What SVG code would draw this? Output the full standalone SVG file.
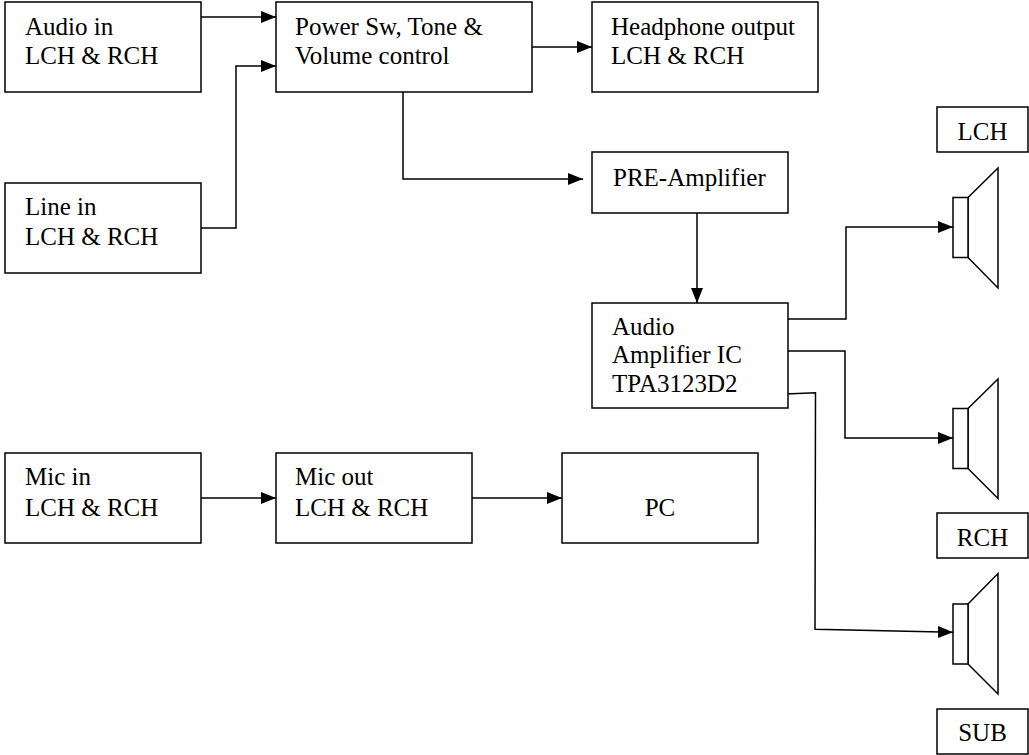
<svg xmlns="http://www.w3.org/2000/svg" width="1029" height="755" viewBox="0 0 1029 755">
<defs>
<marker id="ah" markerWidth="15" markerHeight="12" refX="15" refY="6" orient="auto" markerUnits="userSpaceOnUse">
<path d="M0,0 L15,6 L0,12 Z" fill="#000"/>
</marker>
<style>
.box{fill:#fff;stroke:#000;stroke-width:1.5}
.t{font-family:"Liberation Serif","Times New Roman",serif;font-size:25px;fill:#000}
.c{text-anchor:middle}
.w{fill:none;stroke:#000;stroke-width:1.5}
.a{fill:none;stroke:#000;stroke-width:1.5;marker-end:url(#ah)}
.spk{fill:#fff;stroke:#000;stroke-width:1.5;stroke-linejoin:miter}
</style>
</defs>
<rect width="1029" height="755" fill="#fff"/>
<g id="connectors">
<path class="a" d="M201,17 H276"/>
<path class="a" d="M201,228 H236 V66 H276"/>
<path class="a" d="M532,47 H592"/>
<path class="a" d="M403,89 V179 H583"/>
<path class="a" d="M697,213 V303"/>
<path class="a" d="M785,319 H846 V227 H953"/>
<path class="a" d="M785,351 H845 V438 H953"/>
<path class="a" d="M785,394 L815.5,392.7 L815,629.3 L953,632.3"/>
<path class="a" d="M201,498 H276"/>
<path class="a" d="M472,498 H562"/>
</g>
<g id="audio-in">
<rect class="box" x="5" y="2" width="196" height="90"/>
<text class="t" x="25" y="35">Audio in</text>
<text class="t" x="25" y="64">LCH &amp; RCH</text>
</g>
<g id="line-in">
<rect class="box" x="5" y="183" width="196" height="90"/>
<text class="t" x="25" y="215">Line in</text>
<text class="t" x="25" y="245">LCH &amp; RCH</text>
</g>
<g id="power">
<rect class="box" x="276" y="2" width="256" height="90"/>
<text class="t" x="295" y="35">Power Sw, Tone &amp;</text>
<text class="t" x="295" y="64">Volume control</text>
</g>
<g id="headphone">
<rect class="box" x="592" y="2" width="226" height="90"/>
<text class="t" x="611" y="35">Headphone output</text>
<text class="t" x="611" y="64">LCH &amp; RCH</text>
</g>
<g id="pre-amp">
<rect class="box" x="592" y="152" width="196" height="61"/>
<text class="t" x="613" y="186">PRE-Amplifier</text>
</g>
<g id="amp-ic">
<rect class="box" x="592" y="303" width="196" height="105"/>
<text class="t" x="612" y="335">Audio</text>
<text class="t" x="612" y="363">Amplifier IC</text>
<text class="t" x="612" y="392">TPA3123D2</text>
</g>
<g id="lch-label">
<rect class="box" x="937" y="107" width="91" height="45"/>
<text class="t c" x="982.5" y="140">LCH</text>
</g>
<g id="speaker-lch">
<path class="spk" d="M968,197.5 L998,168 L998,288 L968,257.5 Z"/>
<rect class="spk" x="953" y="197.5" width="15" height="60"/>
</g>
<g id="speaker-rch">
<path class="spk" d="M968,408.5 L998,379 L998,498.5 L968,468.5 Z"/>
<rect class="spk" x="953" y="408.5" width="15" height="60"/>
</g>
<g id="rch-label">
<rect class="box" x="937" y="513" width="91" height="45"/>
<text class="t c" x="982.5" y="546">RCH</text>
</g>
<g id="speaker-sub">
<path class="spk" d="M968,604 L998,573.5 L998,694 L968,664 Z"/>
<rect class="spk" x="953" y="604" width="15" height="60"/>
</g>
<g id="sub-label">
<rect class="box" x="937" y="709" width="91" height="45"/>
<text class="t c" x="982.5" y="741">SUB</text>
</g>
<g id="mic-in">
<rect class="box" x="5" y="453" width="196" height="90"/>
<text class="t" x="25" y="485">Mic in</text>
<text class="t" x="25" y="516">LCH &amp; RCH</text>
</g>
<g id="mic-out">
<rect class="box" x="276" y="453" width="196" height="90"/>
<text class="t" x="295" y="485">Mic out</text>
<text class="t" x="295" y="516">LCH &amp; RCH</text>
</g>
<g id="pc">
<rect class="box" x="562" y="453" width="196" height="90"/>
<text class="t c" x="660" y="516">PC</text>
</g>
</svg>
